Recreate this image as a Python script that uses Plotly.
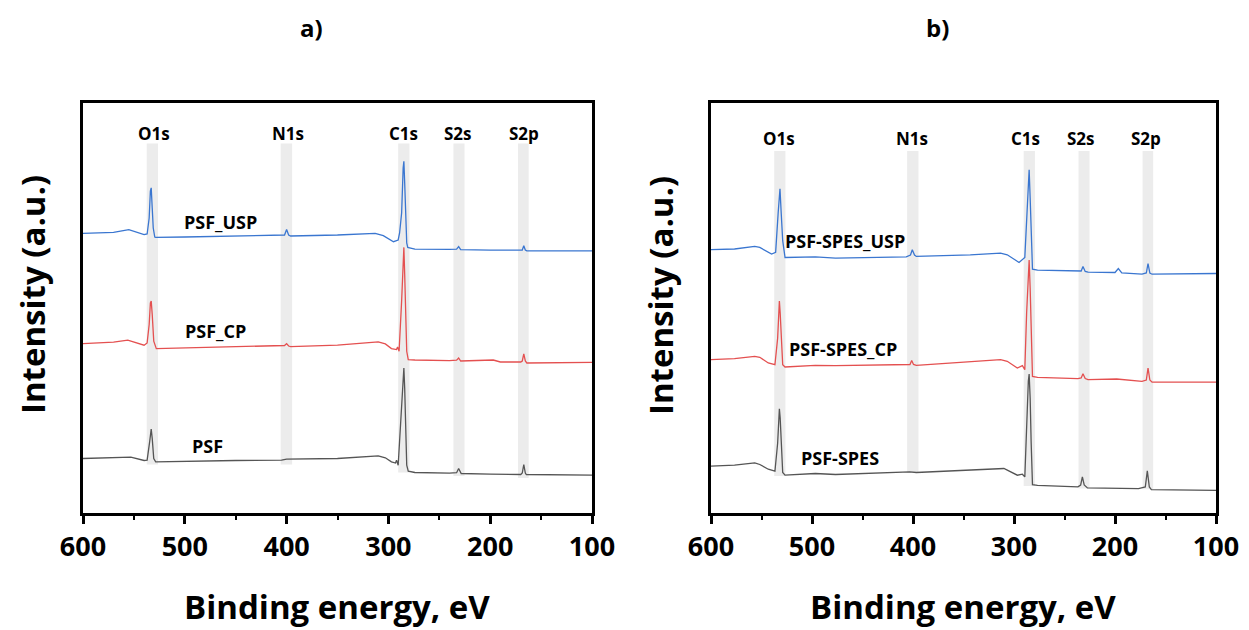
import plotly.graph_objects as go

# ---------------- data (binding energy eV, intensity a.u.) ----------------
# Panel a
a_usp_E = [600, 570, 555, 545, 540, 537, 535, 533.8, 533, 532, 531, 529.5, 528.6, 500, 450, 405, 402, 400, 398, 396,
           350, 313, 305, 295, 290.4, 289, 287, 285.5, 284.8, 284, 283, 282, 281, 274, 240, 233, 231, 229, 200, 170,
           168.5, 167, 165.5, 164, 100]
a_usp_I = [279.7, 280.7, 283.4, 280.3, 278.3, 279, 295, 322, 325.2, 305, 285, 276, 275.6, 276, 276.7, 277.3, 278, 283.4, 278, 277,
           278, 279.7, 277.3, 271.3, 273, 280, 300, 345, 351.7, 330, 295, 270, 265.6, 263.9, 263.6, 263.8, 266.3, 263.3, 262.9, 262.6,
           263, 267.3, 263, 262.2, 262.2]

a_cp_E = [600, 570, 556, 545, 540, 537, 535, 533.8, 533, 532, 530.5, 528, 500, 450, 405, 402, 400, 398, 396, 350,
          310, 303, 297, 292, 291, 289.5, 287, 285.5, 284.8, 284, 283, 282, 280.5, 274, 240, 233, 231, 229, 197, 190,
          170, 168.5, 167, 165.5, 164, 100]
a_cp_I = [169.4, 170.8, 172.8, 169.8, 167.8, 170.1, 188.5, 210, 212, 198.6, 171.8, 164.4, 165.1, 166.1, 166.8, 167.5, 169.4, 167, 166.4, 167.8,
          171.1, 169.1, 164.4, 163.4, 166.1, 161.7, 212, 262.2, 265.6, 238.8, 195.2, 161.7, 153.4, 153, 152.4, 152.8, 155, 152, 153, 151,
          151, 152, 159.1, 152, 150, 150.7]

a_psf_E = [600, 560, 553, 540, 537, 534.5, 533.6, 533, 532, 530.5, 528.6, 500, 450, 405, 400, 350, 310, 303, 297, 293,
           292, 290.4, 287, 285.5, 284.8, 284, 283, 282, 280.5, 274, 240, 233, 231, 228.5, 200, 170, 168.5, 167, 165.5, 164.5, 100]
a_psf_I = [54.5, 55.2, 55.9, 52.5, 52.9, 71.3, 82, 84, 74.6, 54.5, 51.2, 51.9, 52.5, 52.9, 53.9, 54.5, 57.2, 55.2, 51.2, 50,
           52.9, 47.8, 111.5, 141.6, 145, 124.9, 84.7, 47.8, 41.8, 40.5, 39.8, 40.3, 44.5, 39.5, 38.8, 38.5, 40, 48.5, 40, 38.5, 37.8]

# Panel b
b_usp_E = [600, 576.7, 556.7, 551.7, 540, 536, 533.5, 532.3, 531.7, 530.5, 529, 526.7, 496.7, 476.7, 406.7, 402.5, 400.7, 398.5, 396.7, 343.3,
           313.3, 306.7, 295, 289.3, 287.5, 285.8, 285, 284, 283, 281.7, 276.7, 236.7, 233.5, 231.7, 229.5, 226.7, 200, 196.7, 193.3, 173.3,
           169, 167.3, 165.5, 163.3, 100]
b_usp_I = [263.3, 264, 266.6, 265.6, 259, 260.6, 300, 322, 324.2, 300, 272.3, 255.5, 256.2, 254.9, 256.2, 258, 263.3, 258, 256.6, 258.2,
           259.9, 258.2, 250.5, 255.5, 290, 335, 343.3, 315, 270, 243.8, 242.8, 241.5, 242, 246.5, 241.5, 240.8, 240.5, 244.5, 240.1, 238.8,
           240, 249.5, 240, 238.8, 239.5]

b_cp_E = [600, 576.7, 556.7, 551.7, 543.3, 536.7, 534, 532.8, 532.3, 531.5, 530, 529, 526.7, 496.7, 476.7, 410, 403, 401.3, 399.5, 396.7,
          313.3, 306.7, 296.7, 291.7, 289.3, 287.5, 285.8, 285, 284, 283, 281.7, 276.7, 236.7, 233.5, 231.7, 229.5, 226.7, 198.3, 173.3, 169,
          167.3, 165.5, 163.3, 100]
b_cp_I = [153.4, 154.4, 156.7, 155.7, 150, 148.3, 175, 208, 212, 200, 165, 148.3, 146, 147.7, 147.3, 148.3, 148.5, 152.4, 148.5, 147.7,
          153.4, 151.7, 145, 147.3, 143.3, 200, 248, 252.9, 225, 175, 136.6, 135.6, 134.3, 135, 139.3, 134.5, 133.3, 134, 131.6, 133,
          145, 133, 130.9, 130.9]

b_psf_E = [600, 576.7, 556.7, 551.7, 543.3, 536.7, 534, 532.8, 532.3, 531.5, 530, 529, 526.7, 496.7, 476.7, 403.3, 396.7, 343.3, 310, 296.7,
           291.7, 289.3, 287.5, 285.8, 285, 284, 283, 281.7, 276.7, 236.7, 234, 232.3, 230.5, 227.3, 176.7, 170, 168, 166, 164, 100]
b_psf_I = [46.8, 47.8, 50.2, 48.5, 43.8, 41.8, 70, 100, 104.1, 95, 60, 40.5, 37.8, 39.5, 38.5, 41.1, 40.5, 42.8, 44.5, 37.8,
           38.8, 36.1, 90, 132, 138.9, 115, 70, 28.4, 27.7, 26.1, 28, 36.1, 28, 25.1, 24.4, 26, 42.2, 26, 23.4, 22.7]

# peak labels and highlighted bands (energy ranges)
peak_names = ["O1s", "N1s", "C1s", "S2s", "S2p"]
a_label_E = [530, 399, 285.5, 232, 166.5]
b_label_E = [533, 400.7, 288.3, 234, 169.3]
band_lo = [526.3, 394.6, 279.3, 225.2, 162.2]
band_hi = [537.4, 405.8, 290.4, 236.1, 172.7]
a_band_top = [369.4] * 5
a_band_bottom = [48.5, 48.5, 40.5, 37.1, 35.1]
b_band_top = [362] * 5
b_band_bottom = [37.1, 40.5, 27.1, 24.4, 23.7]

a_series = ["PSF_USP", "PSF_CP", "PSF"]
b_series = ["PSF-SPES_USP", "PSF-SPES_CP", "PSF-SPES"]
a_series_E = [465, 469.5, 478]
a_series_I = [291, 181.8, 67]
b_series_E = [467.3, 469.7, 472.3]
b_series_I = [272.3, 164.4, 55.2]

x_ticks = [600, 500, 400, 300, 200, 100]

# ---------------- figure ----------------
BLUE = "rgb(58,118,208)"
RED = "rgb(228,80,80)"
GREY = "rgb(85,85,85)"
BAND = "rgb(236,236,236)"
FONT = "Open Sans"

fig = go.Figure()
for xa, ya, data in [
    ("x", "y", [(a_usp_E, a_usp_I, BLUE), (a_cp_E, a_cp_I, RED), (a_psf_E, a_psf_I, GREY)]),
    ("x2", "y2", [(b_usp_E, b_usp_I, BLUE), (b_cp_E, b_cp_I, RED), (b_psf_E, b_psf_I, GREY)]),
]:
    for E, I, c in data:
        fig.add_trace(go.Scatter(x=E, y=I, mode="lines", xaxis=xa, yaxis=ya,
                                 line=dict(color=c, width=1.3), showlegend=False, hoverinfo="skip"))

shapes = []
annotations = []
for xr, yr, tops, bots, labE, labY, ser, serE, serI in [
    ("x", "y", a_band_top, a_band_bottom, a_label_E, 379.5, a_series, a_series_E, a_series_I),
    ("x2", "y2", b_band_top, b_band_bottom, b_label_E, 374.5, b_series, b_series_E, b_series_I),
]:
    for lo, hi, t, b in zip(band_lo, band_hi, tops, bots):
        shapes.append(dict(type="rect", xref=xr, yref=yr, x0=lo, x1=hi, y0=b, y1=t,
                           fillcolor=BAND, line=dict(width=0), layer="below"))
    for name, e in zip(peak_names, labE):
        annotations.append(dict(x=e, y=labY, xref=xr, yref=yr, text=name, showarrow=False,
                                xanchor="center", yanchor="middle",
                                font=dict(family=FONT, size=17, color="black", weight="bold")))
    for name, e, i in zip(ser, serE, serI):
        annotations.append(dict(x=e, y=i, xref=xr, yref=yr, text=name, showarrow=False,
                                xanchor="center", yanchor="middle",
                                font=dict(family=FONT, size=18, color="black", weight="bold")))

W, H = 1249, 630
for txt, px, py in [("a)", 311, 28), ("b)", 937, 28)]:
    annotations.append(dict(x=px / W, y=1 - py / H, xref="paper", yref="paper", text=txt, showarrow=False,
                            xanchor="center", yanchor="middle",
                            font=dict(family=FONT, size=24, color="black", weight="bold")))
for px, py in [(32, 295), (660, 296)]:
    annotations.append(dict(x=px / W, y=1 - py / H, xref="paper", yref="paper", text="Intensity (a.u.)",
                            textangle=-90, showarrow=False, xanchor="center", yanchor="middle",
                            font=dict(family=FONT, size=33, color="black", weight="bold")))
for px in [337, 963]:
    annotations.append(dict(x=px / W, y=1 - 606 / H, xref="paper", yref="paper", text="Binding energy, eV",
                            showarrow=False, xanchor="center", yanchor="middle",
                            font=dict(family=FONT, size=33, color="black", weight="bold")))

ydom = [1 - 513 / H, 1 - 103 / H]
xcommon = dict(range=[600, 100], tickvals=x_ticks, ticks="outside", ticklen=8, tickwidth=2.5,
               tickcolor="black", showline=True, linecolor="black", linewidth=2.5, mirror=True,
               showgrid=False, zeroline=False, automargin=False,
               tickfont=dict(family=FONT, size=27, color="black", weight="bold"),
               minor=dict(dtick=50, tick0=100, ticks="outside", ticklen=4, tickwidth=2, tickcolor="black"))
ycommon = dict(range=[0, 410], showticklabels=False, ticks="", showline=True, linecolor="black",
               linewidth=2.5, mirror=True, showgrid=False, zeroline=False, domain=ydom, automargin=False)

fig.update_layout(
    width=W, height=H, margin=dict(l=0, r=0, t=0, b=0),
    paper_bgcolor="white", plot_bgcolor="white",
    xaxis=dict(domain=[83 / W, 592 / W], anchor="y", **xcommon),
    xaxis2=dict(domain=[711 / W, 1216 / W], anchor="y2", **xcommon),
    yaxis=dict(anchor="x", **ycommon),
    yaxis2=dict(anchor="x2", **ycommon),
    shapes=shapes, annotations=annotations,
)

fig.write_html("out.html", config={"displayModeBar": False},
               post_script="document.body.style.margin='0px';")
